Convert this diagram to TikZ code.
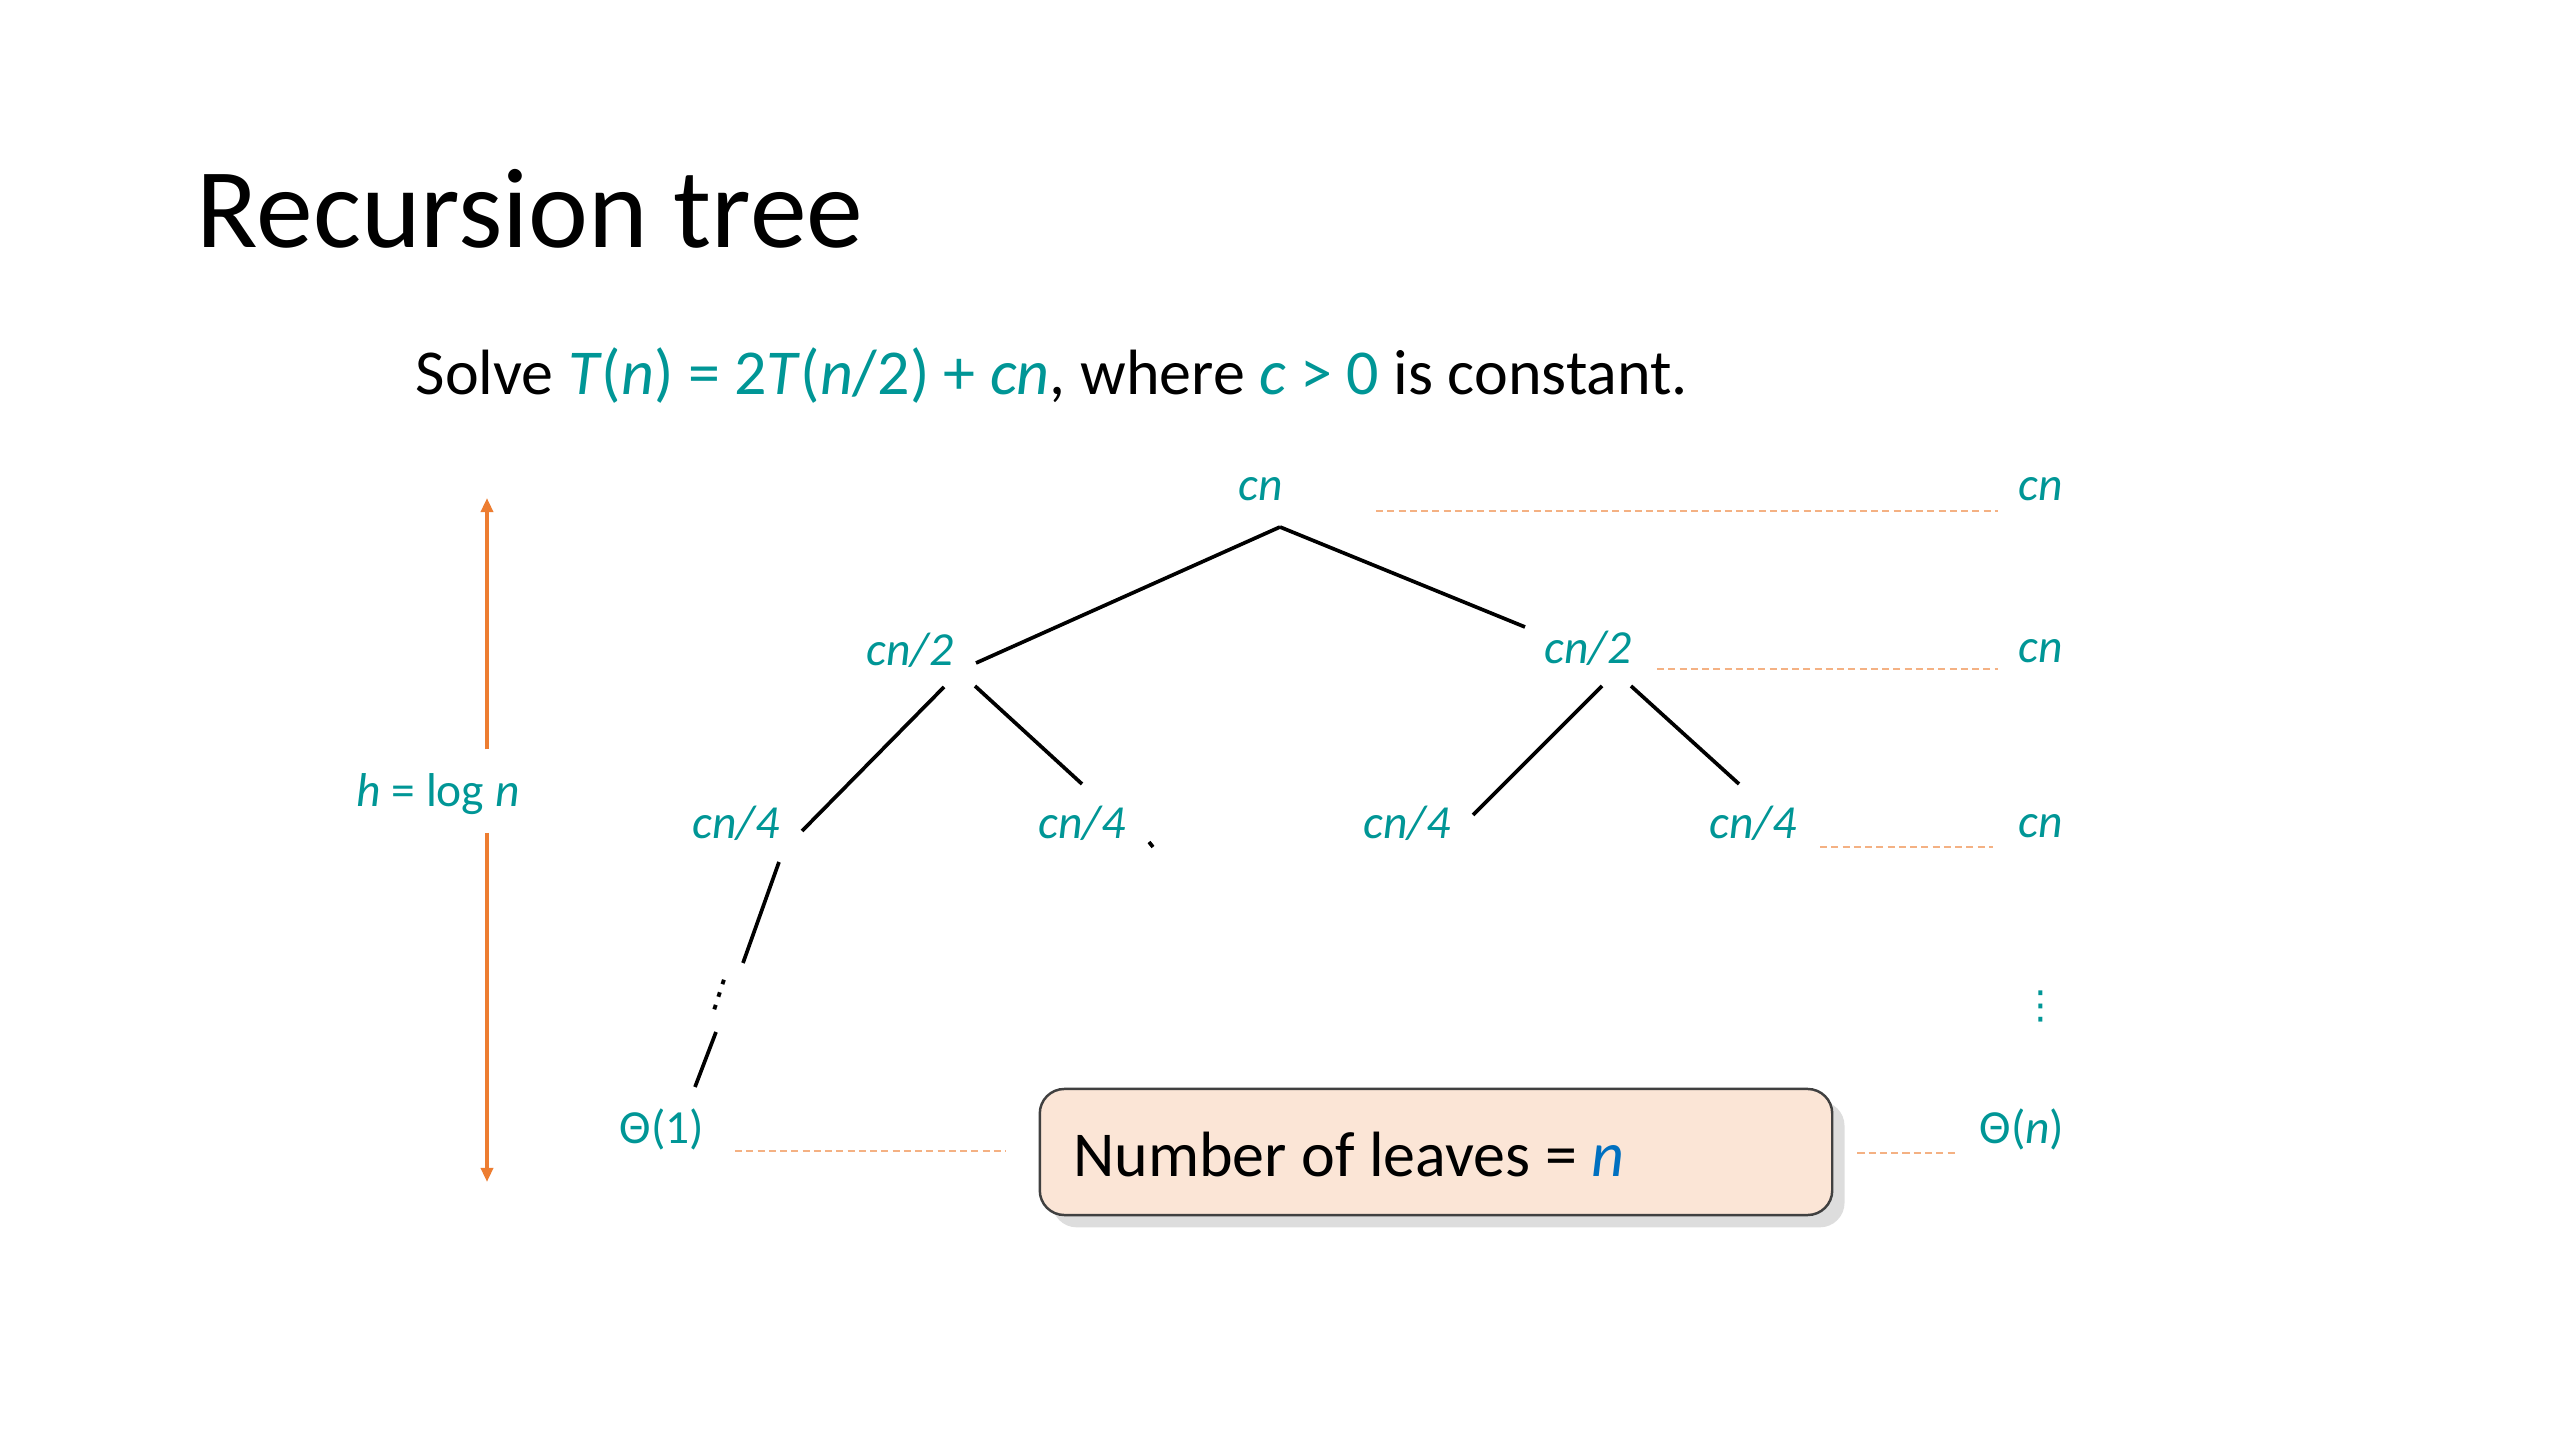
\documentclass[tikz,border=0pt]{standalone}
\usepackage{fontspec}
\setmainfont{Carlito}
\newfontfamily\dejavu{DejaVu Sans}
\usetikzlibrary{calc,arrows.meta,shadows}
\definecolor{tl}{RGB}{0,150,150}
\definecolor{orA}{RGB}{237,125,49}
\definecolor{orL}{RGB}{244,177,131}
\definecolor{peach}{RGB}{251,229,214}
\definecolor{bl}{RGB}{0,112,192}
\tikzset{
 lbl/.style={text=tl, font=\fontsize{13.5}{16}\selectfont, inner sep=0, anchor=base},
 edge/.style={line width=1.05pt, draw=black},
 guide/.style={draw=orL, line width=0.8pt, dash pattern=on 2pt off 1.2pt},
 harrow/.style={draw=orA, line width=1pt, -{Triangle[length=4pt,width=3.4pt]}},
 leafbox/.style={draw=black!75, line width=0.7pt, fill=peach, rounded corners=7pt,
   minimum width=7.92cm, minimum height=1.26cm, inner sep=0pt,
   drop shadow={shadow xshift=3.5pt, shadow yshift=-3.5pt, fill=black!22, opacity=0.6}},
 boxtext/.style={anchor=base west, inner sep=0, font=\fontsize{18.2}{22}\selectfont},
 dotsn/.style={font=\dejavu\fontsize{11}{11}\selectfont, inner sep=0}
}
\begin{document}
\begin{tikzpicture}[x=0.01cm,y=-0.01cm]
\fill[white] (0,0) rectangle (2560,1440);
\useasboundingbox (0,0) rectangle (2560,1440);

\node[anchor=base west, font=\fontsize{32.3}{38}\selectfont, inner sep=0] (title) at (196,248) {Recursion tree};
\node[anchor=base west, font=\fontsize{18.2}{22}\selectfont, inner sep=0] (sub) at (415,395)
 {Solve \textcolor{tl}{\textit{T}(\textit{n}) = 2\textit{T}(\textit{n}/2) + \textit{cn}}, where \textcolor{tl}{\textit{c} > 0} is constant.};

% tree labels
\node[lbl] (root) at (1261,501) {\textit{cn}};
\node[lbl] (l1) at (910,666) {\textit{cn/2}};
\node[lbl] (r1) at (1588,664) {\textit{cn/2}};
\node[lbl] (l2a) at (736,839) {\textit{cn/4}};
\node[lbl] (l2b) at (1082,839) {\textit{cn/4}};
\node[lbl] (l2c) at (1407,839) {\textit{cn/4}};
\node[lbl] (l2d) at (1753,839) {\textit{cn/4}};
\node[dotsn, rotate=-18] (dd) at (720,995) {⋮};
\node[lbl] (leaf) at (662,1143) {Θ(1)};

% sums
\node[lbl] (s0) at (2041,501) {\textit{cn}};
\node[lbl] (s1) at (2041,663) {\textit{cn}};
\node[lbl] (s2) at (2041,838) {\textit{cn}};
\node[dotsn, text=tl] (s3) at (2041,1006) {⋮};
\node[lbl] (s4) at (2022,1143) {Θ(\textit{n})};

% height
\node[lbl] (h) at (438,807) {\textit{h} = log \textit{n}};
\coordinate (htop) at (487,498);
\coordinate (hbot) at (487,1182);
\draw[harrow] ($(h.north -| htop)+(0,-24)$) -- (htop);
\draw[harrow] ($(h.south -| hbot)+(0,17)$) -- (hbot);

% box
\node[leafbox] (box) at (1436,1152) {};
\node[boxtext] (boxt) at ($(box.west)+(34,24)$) {Number of leaves = \textcolor{bl}{\textit{n}}};

% edges
\draw[edge] ($(root.base)+(19,26)$) -- ($(l1.base)+(66,-3)$);
\draw[edge] ($(root.base)+(19,26)$) -- ($(r1.base)+(-63,-37)$);
\draw[edge] ($(l1.base)+(34,21)$) -- ($(l2a.base)+(66,-8)$);
\draw[edge] ($(l1.base)+(65,20)$) -- ($(l2b.base)+(0,-55)$);
\draw[edge] ($(r1.base)+(14,22)$) -- ($(l2c.base)+(66,-24)$);
\draw[edge] ($(r1.base)+(43,22)$) -- ($(l2d.base)+(-14,-55)$);
\draw[edge] ($(l2b.base)+(67,3)$) -- ($(l2b.base)+(71,8)$);
\draw[edge] ($(l2a.base)+(43,23)$) -- ($(dd.center)+(23,-32)$);
\draw[edge] ($(dd.center)+(-4,37)$) -- ($(leaf.base)+(33,-56)$);

% guides
\draw[guide] ($(root.base)+(115,10)$) -- ($(s0.base)+(-43,10)$);
\draw[guide] ($(r1.base)+(69,5)$) -- ($(s1.base)+(-43,6)$);
\draw[guide] ($(l2d.base)+(67,8)$) -- ($(s2.base)+(-48,9)$);
\draw[guide] ($(leaf.base)+(73,8)$) -- ($(box.west |- leaf.base)+(-33,8)$);
\draw[guide] ($(box.east |- s4.base)+(24,10)$) -- ($(s4.base)+(-64,10)$);
\end{tikzpicture}
\end{document}
